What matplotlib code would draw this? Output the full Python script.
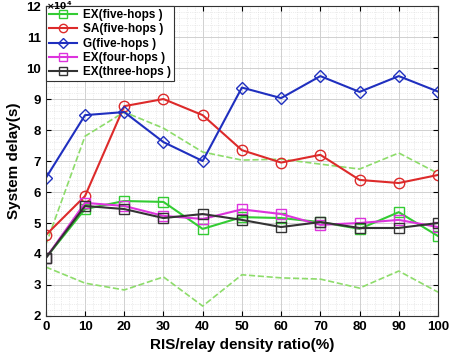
import numpy as np
import matplotlib
matplotlib.use("Agg")
import matplotlib.pyplot as plt
from matplotlib.ticker import MultipleLocator

plt.rcParams['font.family'] = ['Liberation Sans', 'DejaVu Sans']
plt.rcParams['font.weight'] = 'bold'

ratio = [0, 10, 20, 30, 40, 50, 60, 70, 80, 90, 100]
ex_five = [3.87, 5.45, 5.71, 5.68, 4.81, 5.19, 5.16, 5.03, 4.81, 5.35, 4.58]
sa_five = [4.61, 5.87, 8.77, 9.0, 8.48, 7.35, 6.95, 7.2, 6.39, 6.29, 6.55]
g_five = [6.45, 8.48, 8.58, 7.61, 7.0, 9.37, 9.03, 9.74, 9.23, 9.74, 9.24]
ex_four = [3.87, 5.65, 5.55, 5.23, 5.13, 5.44, 5.29, 4.94, 5.0, 5.1, 4.87]
ex_three = [3.87, 5.55, 5.45, 5.16, 5.29, 5.1, 4.87, 5.03, 4.84, 4.84, 5.0]
# unlabeled dashed bounds
upper_band = [4.3, 7.8, 8.58, 8.06, 7.29, 7.03, 7.06, 6.9, 6.74, 7.26, 6.6]
lower_band = [3.58, 3.06, 2.84, 3.26, 2.32, 3.33, 3.23, 3.19, 2.9, 3.45, 2.77]

fig = plt.figure(figsize=(4.49, 3.56), dpi=100)
ax = fig.add_axes([0.102, 0.1124, 0.8735, 0.8706])

ax.plot(ratio, upper_band, '--', color='#8ddc6a', lw=1.2)
ax.plot(ratio, lower_band, '--', color='#8ddc6a', lw=1.2)

ms = 6.5
ax.plot(ratio, ex_five, '-s', color='#33cc33', mfc='none', ms=ms, lw=1.5, label='EX(five-hops )')
ax.plot(ratio, sa_five, '-o', color='#dd2a2a', mfc='none', ms=ms + 1, lw=1.5, label='SA(five-hops )')
ax.plot(ratio, g_five, '-D', color='#1f2fbf', mfc='none', ms=ms, lw=1.5, label='G(five-hops )')
ax.plot(ratio, ex_four, '-s', color='#dd33dd', mfc='none', ms=ms, lw=1.5, label='EX(four-hops )')
ax.plot(ratio, ex_three, '-s', color='#333333', mfc='none', ms=ms, lw=1.5, label='EX(three-hops )')

ax.set_xlim(0, 100)
ax.set_ylim(2, 12)
ax.xaxis.set_major_locator(MultipleLocator(10))
ax.yaxis.set_major_locator(MultipleLocator(1))
ax.xaxis.set_minor_locator(MultipleLocator(2))
ax.yaxis.set_minor_locator(MultipleLocator(0.2))
ax.grid(which='major', color='#d0d0d0', lw=0.7)
ax.grid(which='minor', color='#dadada', lw=0.5, ls=':')
ax.tick_params(which='both', direction='in', top=True, right=True, labelsize=9.5)
ax.tick_params(which='minor', length=0)
for s in ax.spines.values():
    s.set_color('#333333')

ax.set_xlabel('RIS/relay density ratio(%)', fontsize=11, fontweight='bold')
ax.set_ylabel('System delay(s)', fontsize=11, fontweight='bold')
fig.text(0.32 * 0.102 + 0.07, 1.0, r'$\times10^{4}$', fontsize=6.5, va='top', ha='left',
         fontweight='normal')

leg = ax.legend(loc='upper left', prop={'weight': 'bold', 'size': 8.5},
                frameon=True, fancybox=False, framealpha=1, edgecolor='#333333',
                borderaxespad=0, handlelength=2.4, handletextpad=0.5,
                borderpad=0.25, labelspacing=0.2, markerscale=0.8)
leg.get_frame().set_linewidth(0.8)

fig.savefig('out.png', dpi=100)
